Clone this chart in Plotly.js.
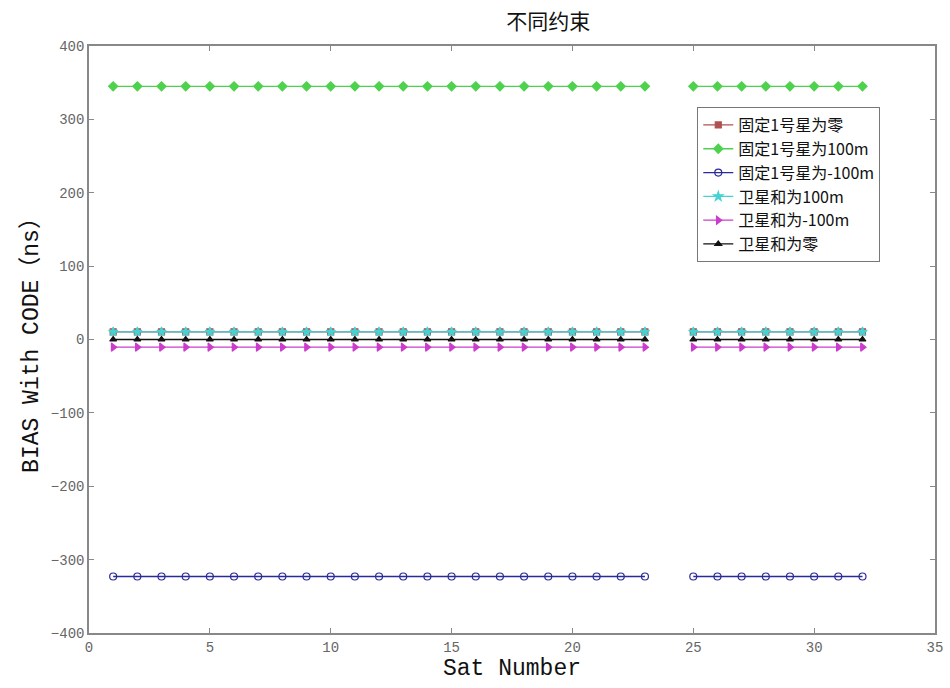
<!DOCTYPE html>
<html><head><meta charset="utf-8">
<script src="https://cdn.plot.ly/plotly-3.0.1.min.js"></script>
<style>html,body{margin:0;padding:0;background:#fff}#chart{width:950px;height:688px}</style>
</head><body><div id="chart"></div>
<script>
const satNumbers = [1,2,3,4,5,6,7,8,9,10,11,12,13,14,15,16,17,18,19,20,21,22,23,24,25,26,27,28,29,30,31,32];
const fixSat1Zero   = [10.5,10.5,10.5,10.5,10.5,10.5,10.5,10.5,10.5,10.5,10.5,10.5,10.5,10.5,10.5,10.5,10.5,10.5,10.5,10.5,10.5,10.5,10.5,null,10.5,10.5,10.5,10.5,10.5,10.5,10.5,10.5];
const fixSat1Plus100 = [345,345,345,345,345,345,345,345,345,345,345,345,345,345,345,345,345,345,345,345,345,345,345,null,345,345,345,345,345,345,345,345];
const fixSat1Minus100= [-323,-323,-323,-323,-323,-323,-323,-323,-323,-323,-323,-323,-323,-323,-323,-323,-323,-323,-323,-323,-323,-323,-323,null,-323,-323,-323,-323,-323,-323,-323,-323];
const sumPlus100  = [10.4,10.4,10.4,10.4,10.4,10.4,10.4,10.4,10.4,10.4,10.4,10.4,10.4,10.4,10.4,10.4,10.4,10.4,10.4,10.4,10.4,10.4,10.4,null,10.4,10.4,10.4,10.4,10.4,10.4,10.4,10.4];
const sumMinus100 = [-10.4,-10.4,-10.4,-10.4,-10.4,-10.4,-10.4,-10.4,-10.4,-10.4,-10.4,-10.4,-10.4,-10.4,-10.4,-10.4,-10.4,-10.4,-10.4,-10.4,-10.4,-10.4,-10.4,null,-10.4,-10.4,-10.4,-10.4,-10.4,-10.4,-10.4,-10.4];
const sumZero     = [0,0,0,0,0,0,0,0,0,0,0,0,0,0,0,0,0,0,0,0,0,0,0,null,0,0,0,0,0,0,0,0];
const seriesNames = ['固定1号星为零','固定1号星为100m','固定1号星为-100m','卫星和为100m','卫星和为-100m','卫星和为零'];
const xTicks = [0,5,10,15,20,25,30,35];
const yTicks = [-400,-300,-200,-100,0,100,200,300,400];

const font = '"Liberation Mono", "Noto Sans CJK SC", monospace';
function tr(y, name, color, symbol, size){
  return {x: satNumbers, y: y, name: name, type:'scatter', mode:'lines+markers',
    connectgaps:false,
    line:{color:color, width:1.3},
    marker:{symbol:symbol, size:size, color:color, line:{color:color, width:1.2}}};
}
const data = [
  tr(fixSat1Zero, seriesNames[0], '#b05050', 'square', 6),
  tr(fixSat1Plus100, seriesNames[1], '#4ed24e', 'diamond', 7),
  tr(fixSat1Minus100, seriesNames[2], '#2a2a9a', 'circle-open', 7),
  tr(sumPlus100, seriesNames[3], '#45d2d2', 'star', 7),
  tr(sumMinus100, seriesNames[4], '#cc3ccc', 'triangle-right', 7),
  tr(sumZero, seriesNames[5], '#111111', 'triangle-up', 6)
];
const axisCommon = {showgrid:false, zeroline:false, showline:true, mirror:'ticks',
  linecolor:'#888', linewidth:1.5, ticks:'inside', ticklen:5, tickcolor:'#888',
  tickfont:{family:font, size:14, color:'#666'}};
const layout = {
  width:950, height:688,
  margin:{l:89, r:15, t:46, b:55},
  paper_bgcolor:'#fff', plot_bgcolor:'#fff',
  title:{text:'不同约束', font:{family:'"Noto Sans CJK SC", sans-serif', size:21, color:'#111'}, x:0.577, xanchor:'center', y:0.968, yanchor:'middle'},
  xaxis: Object.assign({}, axisCommon, {range:[0,35], tickvals:xTicks,
    title:{text:'Sat Number', font:{family:font, size:23, color:'#111'}, standoff:2}}),
  yaxis: Object.assign({}, axisCommon, {range:[-400,400], tickvals:yTicks,
    title:{text:'BIAS With CODE（ns）', font:{family:font, size:23, color:'#111'}, standoff:6}}),
  showlegend:true,
  legend:{x:0.719, y:0.896, xanchor:'left', yanchor:'top', bgcolor:'#fff',
    bordercolor:'#777', borderwidth:1, tracegroupgap:0,
    font:{family:'"Noto Sans CJK SC", serif', size:16, color:'#111'}, itemwidth:30}
};
Plotly.newPlot('chart', data, layout, {displayModeBar:false});
</script></body></html>
